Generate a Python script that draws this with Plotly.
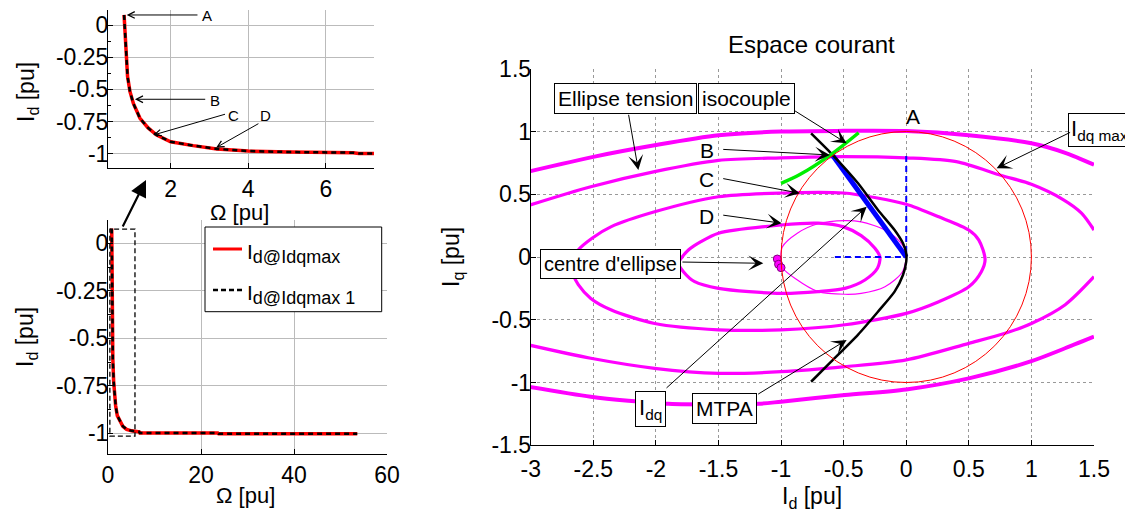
import plotly.graph_objects as go

# page body has an 8px margin: the figure is drawn from (8, 8) in the window
OFF = 8
W, H = 1133 - OFF, 517 - OFF
FONT = "Liberation Sans, Arial, sans-serif"

# ---------------- data : I_d versus Omega (left plots) ----------------
omega_pu = [0.80, 0.815, 0.83, 0.85, 0.89, 0.953, 1.04, 1.21, 1.42, 1.64, 2.0, 2.58,
            3.19, 4.0, 5.07, 6.70, 6.85, 15.0, 23.6, 23.8, 53.6]
id_pu = [0.078, 0.0, -0.10, -0.246, -0.40, -0.518, -0.61, -0.725, -0.80, -0.855, -0.907,
         -0.937, -0.963, -0.979, -0.987, -0.992, -0.998, -0.998, -0.998, -1.003, -1.003]

# ---------------- data : current plane (right plot) ----------------
# voltage ellipses
e1_top_x = [-3.02, -2.49, -2.01, -1.5, -1.0, -0.5, 0.0, 0.5, 1.0, 1.27, 1.5]
e1_top_y = [0.68, 0.80, 0.89, 0.97, 1.0, 1.005, 1.003, 0.97, 0.906, 0.83, 0.735]
e1_bot_x = [-3.02, -2.52, -2.22, -1.9, -1.5, -1.18, -1.0, -0.49, 0.0, 0.5, 1.0, 1.25, 1.5]
e1_bot_y = [-1.033, -1.113, -1.145, -1.17, -1.175, -1.17, -1.153, -1.10, -1.055, -0.967,
            -0.83, -0.735, -0.635]
e2_top_x = [-3.02, -2.52, -2.01, -1.5, -1.0, -0.5, 0.0, 0.4, 0.76, 1.0, 1.25, 1.4, 1.5]
e2_top_y = [0.41, 0.56, 0.68, 0.77, 0.79, 0.80, 0.79, 0.76, 0.65, 0.58, 0.46, 0.35, 0.215]
e2_bot_x = [-3.02, -2.52, -2.01, -1.5, -1.0, -0.49, 0.0, 0.5, 0.79, 1.0, 1.27, 1.5]
e2_bot_y = [-0.70, -0.807, -0.887, -0.927, -0.914, -0.874, -0.82, -0.688, -0.608, -0.53,
            -0.38, -0.157]
e3_x = [-2.67, -2.62, -2.51, -2.36, -2.01, -1.5, -1.0, -0.5, -0.23, 0.0, 0.26, 0.5, 0.58,
        0.63, 0.60, 0.5, 0.26, 0.0, -0.49, -1.0, -1.5, -2.01, -2.36, -2.52, -2.62, -2.66, -2.67]
e3_y = [-0.05, 0.056, 0.15, 0.24, 0.36, 0.48, 0.51, 0.51, 0.47, 0.42, 0.32, 0.215, 0.135,
        -0.02, -0.117, -0.237, -0.356, -0.449, -0.54, -0.58, -0.58, -0.53, -0.42, -0.33,
        -0.22, -0.14, -0.05]
e4_x = [-1.82, -1.79, -1.74, -1.64, -1.5, -1.0, -0.705, -0.5, -0.36, -0.25, -0.21, -0.23,
        -0.33, -0.49, -0.705, -1.0, -1.5, -1.69, -1.78, -1.82]
e4_y = [-0.05, 0.0, 0.056, 0.122, 0.19, 0.255, 0.27, 0.24, 0.17, 0.07, 0.0, -0.09,
        -0.183, -0.25, -0.276, -0.29, -0.25, -0.197, -0.117, -0.05]
e5_x = [-1.0, -0.99, -0.87, -0.705, -0.49, -0.36, -0.17, -0.05, 0.0, -0.03, -0.17, -0.36,
        -0.49, -0.705, -0.89, -0.985, -1.0]
e5_y = [-0.02, 0.08, 0.19, 0.265, 0.29, 0.28, 0.215, 0.12, 0.03, -0.117, -0.237, -0.29,
        -0.297, -0.276, -0.17, -0.09, -0.02]
# ellipse centres
centre_x = [-1.03, -1.02, -1.0]
centre_y = [-0.016, -0.058, -0.085]
# iso-torque (green)
iso_x = [-1.0, -0.85, -0.61, -0.38]
iso_y = [0.587, 0.657, 0.81, 0.99]
# MTPA / trajectory (black)
mtpa_x = [-0.76, -0.6, -0.385, -0.226, -0.093, -0.026, 0.0, 0.0, -0.026, -0.093, -0.226,
          -0.386, -0.6, -0.76]
mtpa_y = [0.985, 0.826, 0.587, 0.375, 0.215, 0.109, 0.03, -0.037, -0.143, -0.276, -0.436,
          -0.62, -0.834, -0.994]
# current vector I_dq and its projections
idq_x = [0.0, -0.59]
idq_y = [0.0, 0.813]
proj_x = [0.0, 0.0, None, -0.57, 0.0]
proj_y = [0.805, 0.0, None, 0.0, 0.0]
# I_dq max circle radius
idq_max = 1.0

# tick labels
left_y_ticks = [0, -0.25, -0.5, -0.75, -1]
left_y_text = ["0", "-0.25", "-0.5", "-0.75", "-1"]
top_x_ticks = [2, 4, 6]
bot_x_ticks = [0, 20, 40, 60]
right_x_ticks = [-3, -2.5, -2, -1.5, -1, -0.5, 0, 0.5, 1, 1.5]
right_x_text = ["-3", "-2.5", "-2", "-1.5", "-1", "-0.5", "0", "0.5", "1", "1.5"]
right_y_ticks = [-1.5, -1, -0.5, 0, 0.5, 1, 1.5]
right_y_text = ["-1.5", "-1", "-0.5", "0", "0.5", "1", "1.5"]


def PX(p):
    return (p - OFF) / W


def PY(p):
    return 1 - (p - OFF) / H


fig = go.Figure()

# left plots
for xa, ya in (("x", "y"), ("x2", "y2")):
    fig.add_trace(go.Scatter(x=omega_pu, y=id_pu, mode="lines", xaxis=xa, yaxis=ya,
                             line=dict(color="#ff0000", width=3.5), showlegend=False))
    fig.add_trace(go.Scatter(x=omega_pu, y=id_pu, mode="lines", xaxis=xa, yaxis=ya,
                             line=dict(color="black", width=2.5, dash="5px,4px"),
                             showlegend=False))

MAG = "#ff00ff"
for xs, ys, w in ((e1_top_x, e1_top_y, 4), (e1_bot_x, e1_bot_y, 4),
                  (e2_top_x, e2_top_y, 3.2), (e2_bot_x, e2_bot_y, 3.2),
                  (e3_x, e3_y, 3.2), (e4_x, e4_y, 3.2), (e5_x, e5_y, 1.2)):
    fig.add_trace(go.Scatter(x=xs, y=ys, mode="lines", xaxis="x3", yaxis="y3",
                             line=dict(color=MAG, width=w, shape="spline", smoothing=0.8),
                             showlegend=False))

fig.add_trace(go.Scatter(x=proj_x, y=proj_y, mode="lines", xaxis="x3", yaxis="y3",
                         line=dict(color="#0000ff", width=2, dash="6px,4px"), showlegend=False))
fig.add_trace(go.Scatter(x=idq_x, y=idq_y, mode="lines", xaxis="x3", yaxis="y3",
                         line=dict(color="#0000ff", width=5), showlegend=False))
fig.add_trace(go.Scatter(x=mtpa_x, y=mtpa_y, mode="lines", xaxis="x3", yaxis="y3",
                         line=dict(color="black", width=2.5, shape="spline", smoothing=0.6),
                         showlegend=False))
fig.add_trace(go.Scatter(x=iso_x, y=iso_y, mode="lines", xaxis="x3", yaxis="y3",
                         line=dict(color="#00ee00", width=3.5, shape="spline"), showlegend=False))
fig.add_trace(go.Scatter(x=centre_x, y=centre_y, mode="markers", xaxis="x3", yaxis="y3",
                         marker=dict(color=MAG, size=8, line=dict(color="#800080", width=1)),
                         showlegend=False))

# I_dq max circle
fig.add_shape(type="circle", xref="x3", yref="y3", x0=-idq_max, x1=idq_max,
              y0=-idq_max, y1=idq_max, line=dict(color="#ff0000", width=1), layer="above")

# dashed zoom box in bottom-left plot
fig.add_shape(type="rect", xref="x2", yref="y2", x0=0.4, x1=5.8, y0=-1.015, y1=0.075,
              line=dict(color="black", width=1.3, dash="5px,3px"))

# manual legend
fig.add_shape(type="rect", xref="paper", yref="paper", x0=PX(205), x1=PX(381.7),
              y0=PY(311.7), y1=PY(227), line=dict(color="black", width=1),
              fillcolor="white", layer="above")
fig.add_shape(type="line", xref="paper", yref="paper", x0=PX(213), x1=PX(242),
              y0=PY(249), y1=PY(249), line=dict(color="#ff0000", width=3), layer="above")
fig.add_shape(type="line", xref="paper", yref="paper", x0=PX(213), x1=PX(242),
              y0=PY(290), y1=PY(290), line=dict(color="black", width=2.5, dash="5px,3px"),
              layer="above")

ann = []


def txt(text, x, y, xref="paper", yref="paper", size=20, box=False, angle=0,
        xanchor="center", yanchor="middle", pad=3):
    d = dict(text=text, x=x, y=y, xref=xref, yref=yref, showarrow=False,
             font=dict(family=FONT, size=size, color="black"), textangle=angle,
             xanchor=xanchor, yanchor=yanchor)
    if box:
        d.update(bgcolor="white", bordercolor="black", borderwidth=1, borderpad=pad)
    ann.append(d)


def arrow(x, y, ax, ay, xref, yref, head=3, size=2.5, width=1):
    ann.append(dict(text="", x=x, y=y, ax=ax, ay=ay, xref=xref, yref=yref,
                    axref=xref, ayref=yref, showarrow=True, arrowhead=head,
                    arrowsize=size, arrowwidth=width, arrowcolor="black", standoff=0))


# legend texts
txt("I<sub><span style='font-size:18px'>d@Idqmax</span></sub>", PX(245), PY(253),
    size=21, xanchor="left")
txt("I<sub><span style='font-size:18px'>d@Idqmax 1</span></sub>", PX(245), PY(294),
    size=21, xanchor="left")

# axis titles
txt("Ω [pu]", PX(239), PY(212), size=22)
txt("Ω [pu]", PX(245), PY(495), size=22)
txt("I<sub>d</sub> [pu]", PX(812), PY(497), size=23)
txt("I<sub>d</sub> [pu]", PX(28), PY(92), size=23, angle=-90)
txt("I<sub>d</sub> [pu]", PX(26), PY(337), size=23, angle=-90)
txt("I<sub>q</sub> [pu]", PX(452), PY(257), size=23, angle=-90)
txt("Espace courant", PX(811.5), PY(44), size=24)

# top-left labels / arrows
for lab, tx, ty, ax_, ay_, hx, hy in (("A", 2.93, 0.07, 2.73, 0.078, 0.868, 0.078),
                                       ("B", 3.14, -0.585, 2.93, -0.577, 1.08, -0.577),
                                       ("C", 3.62, -0.70, 3.44, -0.69, 1.553, -0.855),
                                       ("D", 4.45, -0.70, 4.30, -0.76, 3.17, -0.953)):
    txt(lab, tx, ty, "x", "y", size=15)
    arrow(hx, hy, ax_, ay_, "x", "y", head=5, size=1.3, width=1)

# big arrow from bottom-left plot to top-left plot
ann.append(dict(text="", x=PX(146), y=PY(180), xref="paper", yref="paper",
                ax=-24, ay=48, showarrow=True, arrowhead=2, arrowsize=1.5,
                arrowwidth=2.2, arrowcolor="black", standoff=0))

# right plot labels
txt("Ellipse tension", -2.243, 1.265, "x3", "y3", size=21, box=True)
txt("isocouple", -1.28, 1.263, "x3", "y3", size=21, box=True)
txt("A", 0.056, 1.118, "x3", "y3", size=21)
txt("B", -1.594, 0.847, "x3", "y3", size=21)
txt("C", -1.594, 0.614, "x3", "y3", size=21)
txt("D", -1.594, 0.321, "x3", "y3", size=21)
txt("centre d'ellipse", -2.363, -0.056, "x3", "y3", size=20, box=True)
txt("I<sub>dq</sub>", -2.041, -1.215, "x3", "y3", size=22, box=True)
txt("MTPA", -1.45, -1.211, "x3", "y3", size=21, box=True)
txt("I<sub>dq max</sub>", PX(1099.5), PY(130), size=22, box=True, pad=2)

arrow(-2.14, 0.693, -2.22, 1.145, "x3", "y3")
arrow(-0.476, 0.906, -0.90, 1.171, "x3", "y3")
arrow(-0.61, 0.813, -1.474, 0.858, "x3", "y3")
arrow(-0.85, 0.508, -1.474, 0.627, "x3", "y3")
arrow(-0.995, 0.269, -1.474, 0.335, "x3", "y3")
arrow(-1.142, -0.05, -1.80, -0.04, "x3", "y3")
arrow(-0.316, 0.40, -1.927, -1.054, "x3", "y3")
arrow(-0.476, -0.661, -1.195, -1.10, "x3", "y3")
arrow(0.722, 0.707, (1071.7 - 906.3) / 125.2, (257 - 131.7) / 125.5, "x3", "y3")

axis_common = dict(showline=True, linecolor="black", linewidth=1, ticks="inside",
                   ticklen=5, tickcolor="black", zeroline=False, automargin=False,
                   tickfont=dict(family=FONT, size=23, color="black"))
xcommon = dict(axis_common, ticklabelstandoff=0)
ycommon = dict(axis_common, ticklabelstandoff=-6)
left_minor = dict(ticks="inside", ticklen=3, tickcolor="black", tick0=0.125, dtick=0.25,
                  showgrid=False)

fig.update_layout(
    width=W, height=H, margin=dict(l=0, r=0, t=0, b=0, autoexpand=False),
    paper_bgcolor="white", plot_bgcolor="white", showlegend=False,
    annotations=ann,
    xaxis=dict(domain=[PX(108), PX(374)], range=[0.386, 7.24], anchor="y",
               tickvals=top_x_ticks, showgrid=True, gridcolor="#bbbbbb", **xcommon),
    yaxis=dict(domain=[PY(168), PY(10)], range=[-1.111, 0.1166], anchor="x",
               tickvals=left_y_ticks, ticktext=left_y_text, showgrid=True,
               gridcolor="#bbbbbb", minor=left_minor, **ycommon),
    xaxis2=dict(domain=[PX(108), PX(387)], range=[0, 60], anchor="y2",
                tickvals=bot_x_ticks, showgrid=True, gridcolor="#bbbbbb", **xcommon),
    yaxis2=dict(domain=[PY(454), PY(220)], range=[-1.109, 0.123], anchor="x2",
                tickvals=left_y_ticks, ticktext=left_y_text, showgrid=True,
                gridcolor="#bbbbbb", minor=left_minor, **ycommon),
    xaxis3=dict(domain=[PX(530.7), PX(1094)], range=[-3, 1.5], anchor="y3",
                tickvals=right_x_ticks, ticktext=right_x_text, showgrid=True,
                gridcolor="#999999", griddash="dot", **dict(xcommon, ticklabelstandoff=3)),
    yaxis3=dict(domain=[PY(445.25), PY(68.75)], range=[-1.5, 1.5], anchor="x3",
                tickvals=right_y_ticks, ticktext=right_y_text, showgrid=True,
                gridcolor="#999999", griddash="dot", **ycommon),
)

fig.write_html("out.html")
